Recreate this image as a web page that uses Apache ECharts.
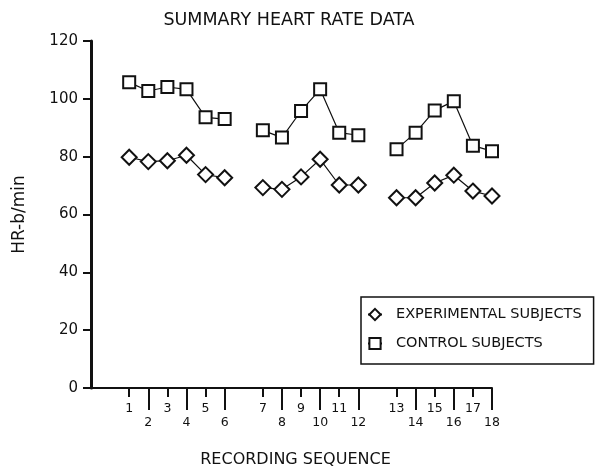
<!DOCTYPE html>
<html>
<head>
<meta charset="utf-8">
<script src="https://cdn.jsdelivr.net/npm/echarts@6/dist/echarts.min.js"></script>
<style>html,body{margin:0;padding:0;background:#fff}#c{width:595px;height:472px}</style>
</head>
<body>
<div id="c"></div>
<script>
const categories = ['1','2','3','4','5','6','7','8','9','10','11','12','13','14','15','16','17','18'];
const control = [105.7,102.7,104.1,103.3,93.6,93.0, 89.1,86.6,95.8,103.3,88.3,87.4, 82.6,88.3,96.0,99.2,83.8,81.9];
const experimental = [79.8,78.3,78.6,80.5,73.8,72.7, 69.3,68.7,73.0,79.1,70.2,70.2, 65.8,65.8,70.9,73.6,68.1,66.4];
const yTicks = [0,20,40,60,80,100,120];

// position on the axis: groups of 6 separated by one empty slot
const pos = categories.map((c, i) => i + 1 + Math.floor(i / 6));
const labelAt = {};
pos.forEach((p, i) => { labelAt[p] = categories[i]; });
const oddPos = pos.filter((p, i) => i % 2 === 0);
const evenPos = pos.filter((p, i) => i % 2 === 1);

function build(vals) {
  const out = [];
  vals.forEach((v, i) => {
    if (i > 0 && i % 6 === 0) out.push([pos[i] - 1, '-']);
    out.push([pos[i], v]);
  });
  return out;
}

const FONT = 'DejaVu Sans';
const ink = '#111';
const chart = echarts.init(document.getElementById('c'), null, {renderer: 'canvas'});
const baseX = {
  type: 'value', min: -1, max: 20, interval: 1, position: 'bottom',
  splitLine: {show: false}
};
chart.setOption({
  animation: false,
  backgroundColor: '#fff',
  title: {
    text: 'SUMMARY HEART RATE DATA', left: 284, top: 6, textAlign: 'center',
    textStyle: {fontFamily: FONT, fontSize: 17.5, fontWeight: 'normal', color: ink}
  },
  legend: {
    orient: 'vertical', left: 361, top: 297,
    padding: [10, 12, 13, 6], itemGap: 14, itemWidth: 14, itemHeight: 14, itemTextGap: 16,
    borderColor: ink, borderWidth: 1.5,
    textStyle: {fontFamily: FONT, fontSize: 14.5, color: ink, padding: [0, 0, 0, 9]},
    data: ['EXPERIMENTAL SUBJECTS', 'CONTROL SUBJECTS']
  },
  grid: {left: 91, right: 103, top: 41, bottom: 84, outerBoundsMode: 'none', containLabel: false},
  xAxis: [
    Object.assign({}, baseX, {
      name: 'RECORDING SEQUENCE', nameLocation: 'middle', nameGap: 64,
      nameTextStyle: {fontFamily: FONT, fontSize: 16, color: ink, padding: [0, 0, 0, 8]},
      axisLine: {show: true, onZero: false, lineStyle: {color: ink, width: 2}},
      axisTick: {show: true, customValues: oddPos, length: 9, lineStyle: {color: ink, width: 2}},
      axisLabel: {show: true, customValues: oddPos, margin: 14, formatter: v => labelAt[v] || '',
        fontFamily: FONT, fontSize: 12.5, color: ink}
    }),
    Object.assign({}, baseX, {
      axisLine: {show: false, onZero: false},
      axisTick: {show: true, customValues: evenPos, length: 22, lineStyle: {color: ink, width: 2}},
      axisLabel: {show: true, customValues: evenPos, margin: 28, formatter: v => labelAt[v] || '',
        fontFamily: FONT, fontSize: 12.5, color: ink}
    })
  ],
  yAxis: {
    type: 'value', min: 0, max: 120, interval: 20,
    name: 'HR-b/min', nameLocation: 'middle', nameGap: 63, nameRotate: 90,
    nameTextStyle: {fontFamily: FONT, fontSize: 17, color: ink},
    axisLine: {show: true, onZero: false, lineStyle: {color: ink, width: 3}},
    axisTick: {show: true, length: 8, lineStyle: {color: ink, width: 2}},
    axisLabel: {fontFamily: FONT, fontSize: 15, color: ink, margin: 13,
      formatter: v => yTicks.indexOf(v) >= 0 ? String(v) : ''},
    splitLine: {show: false}
  },
  series: [
    {
      name: 'EXPERIMENTAL SUBJECTS', type: 'line', xAxisIndex: 0,
      data: build(experimental), symbol: 'diamond', symbolSize: 15,
      showAllSymbol: true, connectNulls: false,
      lineStyle: {color: ink, width: 1.2},
      itemStyle: {color: '#fff', borderColor: ink, borderWidth: 2}
    },
    {
      name: 'CONTROL SUBJECTS', type: 'line', xAxisIndex: 0,
      data: build(control), symbol: 'rect', symbolSize: 12,
      showAllSymbol: true, connectNulls: false,
      lineStyle: {color: ink, width: 1.2},
      itemStyle: {color: '#fff', borderColor: ink, borderWidth: 2}
    }
  ]
});
</script>
</body>
</html>
